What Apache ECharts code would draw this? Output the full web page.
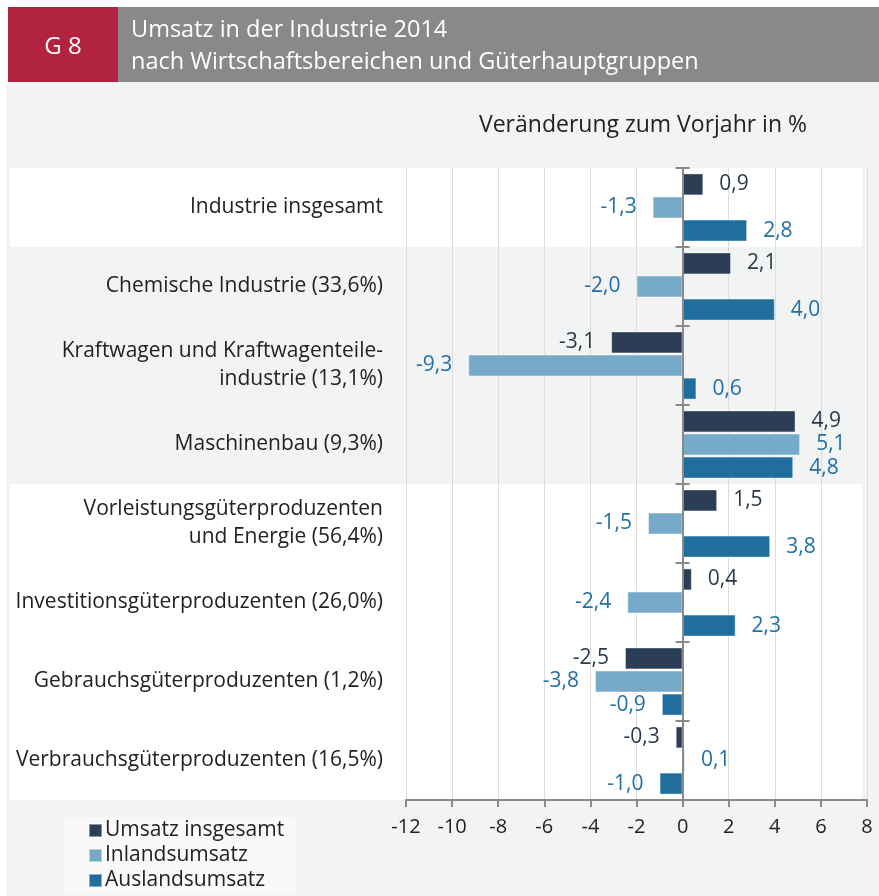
<!DOCTYPE html>
<html>
<head>
<meta charset="utf-8">
<script src="https://cdn.jsdelivr.net/npm/echarts@6/dist/echarts.min.js"></script>
<style>
  html, body { margin: 0; padding: 0; background: #fff; }
  #chart { width: 879px; height: 896px; }
</style>
</head>
<body>
<div id="chart"></div>
<script>
var categories = [
  'Industrie insgesamt',
  'Chemische Industrie (33,6%)',
  'Kraftwagen und Kraftwagenteile-\nindustrie (13,1%)',
  'Maschinenbau (9,3%)',
  'Vorleistungsgüterproduzenten\nund Energie (56,4%)',
  'Investitionsgüterproduzenten (26,0%)',
  'Gebrauchsgüterproduzenten (1,2%)',
  'Verbrauchsgüterproduzenten (16,5%)'
];
var seriesNames = ['Umsatz insgesamt', 'Inlandsumsatz', 'Auslandsumsatz'];
var umsatzInsgesamt = [0.9, 2.1, -3.1, 4.9, 1.5, 0.4, -2.5, -0.3];
var inlandsumsatz = [-1.3, -2.0, -9.3, 5.1, -1.5, -2.4, -3.8, 0.1];
var auslandsumsatz = [2.8, 4.0, 0.6, 4.8, 3.8, 2.3, -0.9, -1.0];
var xTicks = [-12, 8, 2]; // min, max, interval

var FONT = '"Open Sans", "Noto Sans", sans-serif';
var barColors = ['#2c3e55', '#77aac8', '#1f6e9e'];
var labelColors = ['#2b3a4b', '#2270a5', '#2270a5'];
// Bänder: weiß für Gesamt und Hauptgruppen, grau für Wirtschaftsbereiche
var bandColors = ['#ffffff', '#f2f4f3', '#f2f4f3', '#f2f4f3', '#ffffff', '#ffffff', '#ffffff', '#ffffff'];

var chart = echarts.init(document.getElementById('chart'));

function makeSeries(idx, values) {
  return {
    name: seriesNames[idx],
    type: 'bar',
    xAxisIndex: 1,
    yAxisIndex: 1,
    barWidth: 22,
    barGap: '5%',
    z: 5,
    itemStyle: {
      color: barColors[idx],
      borderColor: 'rgba(255,255,255,0.45)',
      borderWidth: 1
    },
    data: values.map(function(v) {
      return {
        value: v,
        label: { position: v < 0 ? 'left' : 'right' }
      };
    }),
    label: {
      show: true,
      distance: 16,
      fontFamily: FONT,
      fontSize: 21,
      color: labelColors[idx],
      formatter: function(p) {
        return p.value.toFixed(1).replace('.', ',');
      }
    }
  };
}

var zeroLine = { show: true, onZero: true, lineStyle: { color: '#8a8a8a', width: 2 } };
var zeroTick = { show: true, length: 7, inside: false, lineStyle: { color: '#8a8a8a', width: 2 } };

var option = {
  animation: false,
  backgroundColor: '#ffffff',
  textStyle: { fontFamily: FONT },
  graphic: [
    { type: 'rect', shape: { x: 6, y: 82, width: 873, height: 814 }, style: { fill: '#f2f4f3' }, z: -10 },
    { type: 'rect', shape: { x: 8, y: 7, width: 110, height: 75 }, style: { fill: '#b2233f' } },
    { type: 'rect', shape: { x: 118, y: 7, width: 761, height: 75 }, style: { fill: '#898989' } },
    { type: 'text', x: 63, y: 47, style: { text: 'G 8', fill: '#fff', font: '24px ' + FONT, align: 'center', verticalAlign: 'middle' } },
    { type: 'text', x: 131, y: 30, style: { text: 'Umsatz in der Industrie 2014', fill: '#fff', font: '23.5px ' + FONT, verticalAlign: 'middle' } },
    { type: 'text', x: 131, y: 62, style: { text: 'nach Wirtschaftsbereichen und Güterhauptgruppen', fill: '#fff', font: '23.5px ' + FONT, verticalAlign: 'middle' } },
    { type: 'text', x: 643, y: 125, style: { text: 'Veränderung zum Vorjahr in %', fill: '#222', font: '23px ' + FONT, align: 'center', verticalAlign: 'middle' } }
  ],
  legend: {
    orient: 'vertical',
    left: 64,
    top: 817,
    padding: [3, 12, 2, 24],
    backgroundColor: '#f8f9f8',
    itemWidth: 13,
    itemHeight: 13,
    itemGap: 4,
    icon: 'rect',
    data: seriesNames,
    textStyle: { fontFamily: FONT, fontSize: 21, color: '#222', padding: [0, 0, 0, -2] }
  },
  grid: [
    { left: 10, right: 17, top: 168, bottom: 96 },
    { left: 406, right: 12, top: 168, bottom: 96 }
  ],
  xAxis: [
    { gridIndex: 0, type: 'value', show: false, min: 0, max: 1 },
    {
      gridIndex: 1,
      type: 'value',
      min: xTicks[0],
      max: xTicks[1],
      interval: xTicks[2],
      axisLine: { show: true, onZero: false, lineStyle: { color: '#8a8a8a', width: 2 } },
      axisTick: { show: true, length: 7, lineStyle: { color: '#8a8a8a', width: 2 } },
      axisLabel: { fontFamily: FONT, fontSize: 20, color: '#222', margin: 17 },
      splitLine: { show: true, lineStyle: { color: '#dcdcdc', width: 1 } }
    },
    // zweite, unsichtbare Achse, damit auch die rechten Striche auf der Nulllinie sitzen
    { gridIndex: 1, type: 'value', show: false, position: 'top', min: xTicks[0], max: xTicks[1], interval: xTicks[2] }
  ],
  yAxis: [
    {
      gridIndex: 0,
      type: 'category',
      inverse: true,
      data: categories,
      z: 0,
      axisLine: { show: false },
      axisTick: { show: false },
      axisLabel: { show: false },
      splitArea: { show: true, areaStyle: { color: bandColors } }
    },
    {
      gridIndex: 1,
      type: 'category',
      inverse: true,
      data: categories,
      position: 'left',
      axisLine: { show: false, onZero: false },
      axisTick: { show: false },
      axisLabel: { fontFamily: FONT, fontSize: 21, color: '#222', margin: 23, lineHeight: 28, align: 'right' }
    },
    {
      gridIndex: 1,
      type: 'category',
      inverse: true,
      data: categories,
      position: 'left',
      z: 6,
      axisLine: zeroLine,
      axisTick: zeroTick,
      axisLabel: { show: false }
    },
    {
      gridIndex: 1,
      type: 'category',
      inverse: true,
      data: categories,
      position: 'right',
      z: 6,
      axisLine: zeroLine,
      axisTick: zeroTick,
      axisLabel: { show: false }
    }
  ],
  series: [
    makeSeries(0, umsatzInsgesamt),
    makeSeries(1, inlandsumsatz),
    makeSeries(2, auslandsumsatz)
  ]
};

chart.setOption(option);
</script>
</body>
</html>
